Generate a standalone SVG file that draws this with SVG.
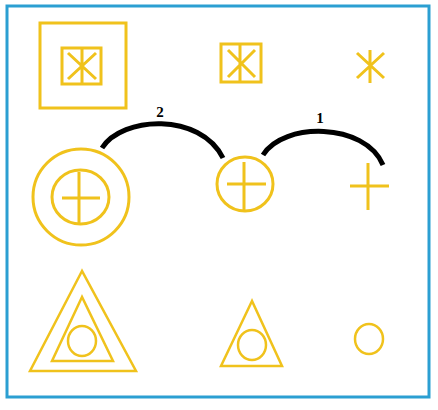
<svg xmlns="http://www.w3.org/2000/svg" width="438" height="410" viewBox="0 0 438 410">
<style>
.y{fill:none;stroke:#f0c21c;stroke-width:3}
.t{fill:none;stroke:#f0c21c;stroke-width:2.5;stroke-linejoin:miter}
.arc{fill:none;stroke:#000;stroke-width:5}
.lbl{font-family:"Liberation Serif",serif;font-weight:bold;font-size:15px;fill:#000;text-anchor:middle}
</style>
<rect x="0" y="0" width="438" height="410" fill="#fff"/>
<rect x="7" y="6" width="422" height="391" fill="none" stroke="#2b9fd2" stroke-width="3"/>
<g id="sq-big">
<rect class="y" x="40" y="23" width="86" height="85"/>
<rect class="y" x="62" y="48" width="39" height="36"/>
<path class="y" d="M82 48V84M68 53L96 79M96 53L68 79"/>
</g>
<g id="sq-mid">
<rect class="y" x="221" y="44" width="40" height="38"/>
<path class="y" d="M240 44V82M228 50L255 77M255 50L228 77"/>
</g>
<g id="ast">
<path class="y" d="M370 50V83M357 53L384 78M384 53L357 78"/>
</g>
<g id="circ-big">
<circle class="y" cx="81" cy="197" r="48"/>
<ellipse class="y" cx="80.5" cy="197" rx="28.5" ry="27"/>
<path class="y" d="M62 198H100M79 172V223"/>
</g>
<g id="circ-mid">
<ellipse class="y" cx="245" cy="184" rx="28" ry="27"/>
<path class="y" d="M227 184H266M244 162V210"/>
</g>
<g id="cross">
<path class="y" d="M350 186H389M368 163V210"/>
</g>
<g id="tri-big">
<polygon class="t" points="82,271 30,371 136,371"/>
<polygon class="t" points="82,297 52,361 113,361"/>
<ellipse class="t" cx="82" cy="341" rx="14" ry="15"/>
</g>
<g id="tri-mid">
<polygon class="t" points="252,301 221,366 282,366"/>
<ellipse class="t" cx="252" cy="345" rx="14" ry="15"/>
</g>
<g id="circ-small">
<ellipse class="t" cx="369" cy="339" rx="14" ry="15"/>
</g>
<g id="connectors">
<path class="arc" d="M102 148C122 116 200 112 223 158"/>
<path class="arc" d="M263 155C283 122 365 122 383 165"/>
<text class="lbl" x="160" y="117">2</text>
<text class="lbl" x="320" y="123">1</text>
</g>
</svg>
